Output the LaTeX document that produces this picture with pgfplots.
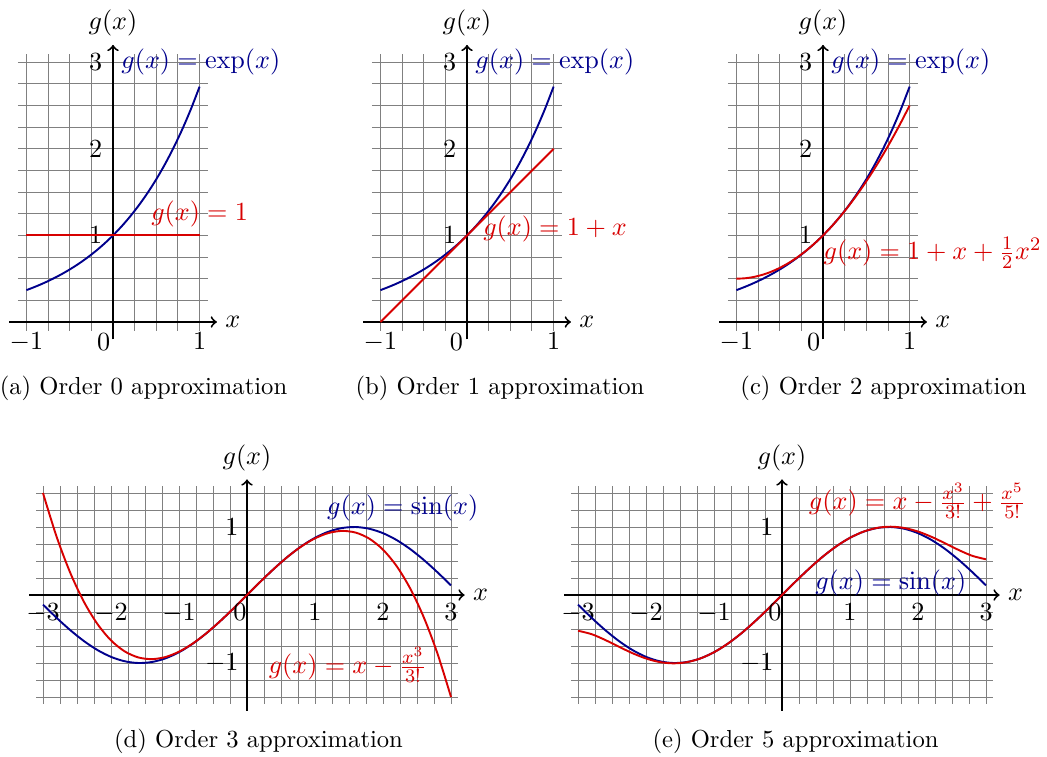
\documentclass[border=0pt]{standalone}
\usepackage{pgfplots}
\usepackage{pgfplotstable}
\pgfplotsset{compat=1.18}

\definecolor{curveblue}{RGB}{0,0,140}
\definecolor{curvered}{RGB}{215,0,0}

% exp(x) and its order 2 polynomial
\pgfplotstableread{
x    exp    t2
-1.0 0.3679 0.500
-0.9 0.4066 0.505
-0.8 0.4493 0.520
-0.7 0.4966 0.545
-0.6 0.5488 0.580
-0.5 0.6065 0.625
-0.4 0.6703 0.680
-0.3 0.7408 0.745
-0.2 0.8187 0.820
-0.1 0.9048 0.905
0.0  1.0000 1.000
0.1  1.1052 1.105
0.2  1.2214 1.220
0.3  1.3499 1.345
0.4  1.4918 1.480
0.5  1.6487 1.625
0.6  1.8221 1.780
0.7  2.0138 1.945
0.8  2.2255 2.120
0.9  2.4596 2.305
1.0  2.7183 2.500
}\expdata

% sin(x) with order 3 and order 5 polynomials
\pgfplotstableread{
x    sin     t3      t5
-3.0 -0.1411  1.5000 -0.5250
-2.8 -0.3350  0.8587 -0.5755
-2.6 -0.5155  0.3293 -0.6608
-2.4 -0.6755 -0.0960 -0.7596
-2.2 -0.8085 -0.4253 -0.8548
-2.0 -0.9093 -0.6667 -0.9333
-1.8 -0.9738 -0.8280 -0.9855
-1.6 -0.9996 -0.9173 -1.0047
-1.4 -0.9854 -0.9427 -0.9875
-1.2 -0.9320 -0.9120 -0.9327
-1.0 -0.8415 -0.8333 -0.8417
-0.8 -0.7174 -0.7147 -0.7174
-0.6 -0.5646 -0.5640 -0.5646
-0.4 -0.3894 -0.3893 -0.3894
-0.2 -0.1987 -0.1987 -0.1987
0.0   0.0000  0.0000  0.0000
0.2   0.1987  0.1987  0.1987
0.4   0.3894  0.3893  0.3894
0.6   0.5646  0.5640  0.5646
0.8   0.7174  0.7147  0.7174
1.0   0.8415  0.8333  0.8417
1.2   0.9320  0.9120  0.9327
1.4   0.9854  0.9427  0.9875
1.6   0.9996  0.9173  1.0047
1.8   0.9738  0.8280  0.9855
2.0   0.9093  0.6667  0.9333
2.2   0.8085  0.4253  0.8548
2.4   0.6755  0.0960  0.7596
2.6   0.5155 -0.3293  0.6608
2.8   0.3350 -0.8587  0.5755
3.0   0.1411 -1.5000  0.5250
}\sindata

\pgfplotsset{
  taylor/.style={
    axis lines=middle, enlargelimits=false, clip=false,
    grid=both,
    major grid style={black!50, line width=0.4pt},
    minor grid style={black!50, line width=0.4pt},
    major tick length=0pt, minor tick length=0pt,
    xlabel={$x$}, ylabel={$g(x)$},
  },
  taylortop/.style={
    taylor,
    x=36.24pt, y=36.24pt,
    xmin=-1.1, xmax=1.1, ymin=-0.1, ymax=3.1,
    xtick={-1,1}, ytick={1,2,3},
    minor xtick={-0.75,-0.5,-0.25,0,0.25,0.5,0.75},
    minor ytick={0,0.25,0.5,0.75,1.25,1.5,1.75,2.25,2.5,2.75},
    axis line style={line width=0.8pt, ->, shorten >=-3.62pt, shorten <=-3.62pt},
    xticklabel style={yshift=-1.0pt},
    yticklabel style={xshift=-1.0pt},
    xlabel style={at={(axis cs:1.2,0)}, anchor=west},
    ylabel style={at={(axis cs:0,3.2)}, anchor=south},
  },
  taylorbot/.style={
    taylor,
    x=28.46pt, y=28.46pt,
    xmin=-3.1, xmax=3.1, ymin=-1.6, ymax=1.6,
    xtick={-3,-2,-1,1,2,3}, ytick={-1,1},
    minor xtick={-3,-2.75,...,3},
    minor ytick={-1.5,-1.25,...,1.5},
    axis line style={line width=0.8pt, ->, shorten >=-2.85pt, shorten <=-2.85pt},
    xlabel style={at={(axis cs:3.2,0)}, anchor=west},
    ylabel style={at={(axis cs:0,1.7)}, anchor=south},
  },
  curve/.style={line width=0.8pt, smooth},
}

\begin{document}
\begin{tikzpicture}[font=\fontsize{10.95}{13.6}\selectfont]
\path[use as bounding box] (0,0) rectangle (438.17pt,316.39pt);

% (a) order 0
\begin{axis}[taylortop, at={(7.43pt,178.01pt)}, anchor=south west]
  \addplot[curveblue, curve] table[x=x, y=exp] {\expdata};
  \addplot[curvered, line width=0.8pt] coordinates {(-1,1) (1,1)};
  \node[curveblue, anchor=west] at (axis cs:0,3) {$g(x) = \exp(x)$};
  \node[curvered, anchor=south] at (axis cs:1,1) {$g(x) = 1$};
  \node[anchor=north east, inner sep=0pt, xshift=-1pt, yshift=-4.6pt] at (axis cs:0,0) {$0$};
\end{axis}

% (b) order 1
\begin{axis}[taylortop, at={(155.58pt,178.01pt)}, anchor=south west]
  \addplot[curveblue, curve] table[x=x, y=exp] {\expdata};
  \addplot[curvered, line width=0.8pt] coordinates {(-1,0) (1,2)};
  \node[curveblue, anchor=west] at (axis cs:0,3) {$g(x) = \exp(x)$};
  \node[curvered, anchor=west] at (axis cs:0.09,1.07) {$g(x) = 1 + x$};
  \node[anchor=north east, inner sep=0pt, xshift=-1.5pt, yshift=-4.6pt] at (axis cs:0,0) {$0$};
\end{axis}

% (c) order 2
\begin{axis}[taylortop, at={(304.57pt,178.01pt)}, anchor=south west]
  \addplot[curveblue, curve] table[x=x, y=exp] {\expdata};
  \addplot[curvered, curve] table[x=x, y=t2] {\expdata};
  \node[curveblue, anchor=west] at (axis cs:0,3) {$g(x) = \exp(x)$};
  \node[curvered, anchor=west] at (axis cs:-0.09,0.80) {$g(x) = 1 + x + \frac{1}{2}x^2$};
  \node[anchor=north east, inner sep=0pt, xshift=-1pt, yshift=-4.6pt] at (axis cs:0,0) {$0$};
\end{axis}

% (d) order 3
\begin{axis}[taylorbot, at={(15.14pt,21.84pt)}, anchor=south west]
  \addplot[curveblue, curve] table[x=x, y=sin] {\sindata};
  \addplot[curvered, curve] table[x=x, y=t3] {\sindata};
  \node[curveblue] at (axis cs:2.29,1.28) {$g(x) = \sin(x)$};
  \node[curvered] at (axis cs:1.48,-1.03) {$g(x) = x - \frac{x^3}{3!}$};
  \node[anchor=north east, inner sep=0pt, yshift=-3.3pt] at (axis cs:0,0) {$0$};
\end{axis}

% (e) order 5
\begin{axis}[taylorbot, at={(239.04pt,21.84pt)}, anchor=south west]
  \addplot[curveblue, curve] table[x=x, y=sin] {\sindata};
  \addplot[curvered, curve] table[x=x, y=t5] {\sindata};
  \node[curveblue] at (axis cs:1.60,0.18) {$g(x) = \sin(x)$};
  \node[curvered] at (axis cs:1.99,1.38) {$g(x) = x - \frac{x^3}{3!} + \frac{x^5}{5!}$};
  \node[anchor=north east, inner sep=0pt, yshift=-3.3pt] at (axis cs:0,0) {$0$};
\end{axis}

% captions
\begin{scope}[font=\fontsize{10.3}{12.4}\selectfont]
\node at (60.05pt,154.01pt) {(a) Order 0 approximation};
\node at (209.25pt,154.01pt) {(b) Order 1 approximation};
\node at (369.74pt,154.01pt) {(c) Order 2 approximation};
\node at (108.18pt,6.28pt) {(d) Order 3 approximation};
\node at (332.92pt,6.28pt) {(e) Order 5 approximation};
\end{scope}
\end{tikzpicture}
\end{document}
